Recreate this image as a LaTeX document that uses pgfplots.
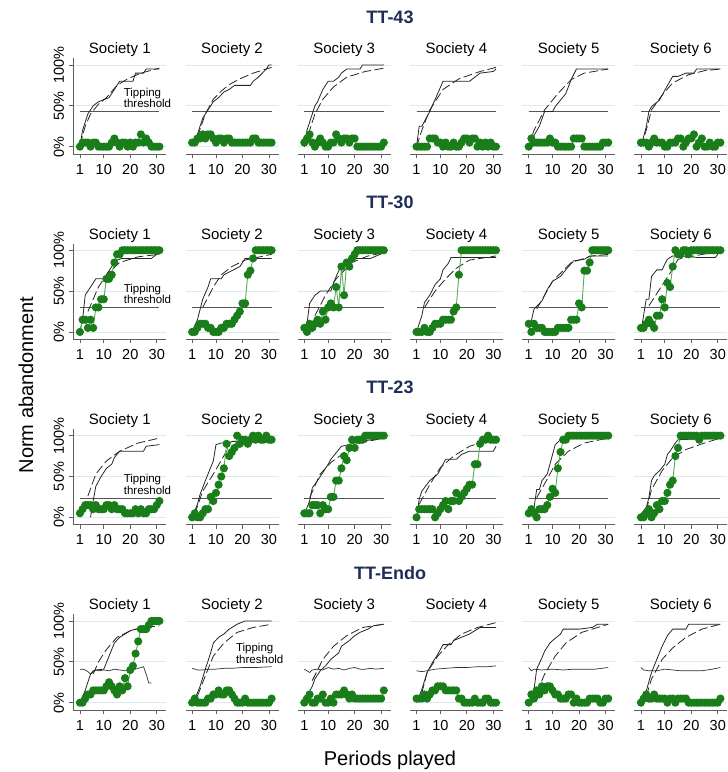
\documentclass[border=0pt]{standalone}
\usepackage{pgfplots}
\pgfplotsset{compat=1.18}
\usepackage{fontspec}
\setmainfont{Liberation Sans}
\definecolor{dg}{RGB}{25,125,25}
\definecolor{lg}{RGB}{85,170,85}
\definecolor{gridc}{RGB}{222,233,236}
\definecolor{axc}{RGB}{95,95,95}
\definecolor{thrc}{RGB}{85,85,85}
\definecolor{navyt}{RGB}{30,45,85}
\pgfplotsset{
 panel/.style={
  scale only axis, width=93pt, height=95.6pt,
  xmin=-1.5, xmax=33.6, ymin=-9, ymax=108,
  axis x line=bottom, axis y line=left,
  axis line style={draw=axc, line width=0.9pt, -},
  xtick={1,10,20,30}, ytick={0,50,100},
  tick align=outside, major tick length=4pt,
  tick style={draw=axc, line width=0.8pt},
  ymajorgrids, grid style={draw=gridc, line width=0.8pt},
  ticklabel style={font=\fontsize{14.5}{14.5}\selectfont},
  xticklabel style={yshift=-2.5pt},
  /pgf/number format/assume math mode=true,
  title style={at={(0.5,1)}, anchor=base, yshift=-1.5pt, font=\fontsize{15}{15}\selectfont},
  clip mode=individual,
  anchor=south west,
 },
 lefty/.style={yticklabels={0\%,50\%,100\%}, yticklabel style={rotate=90, anchor=south, inner sep=5pt}},
 noy/.style={y axis line style={draw=none}, yticklabels={}, ytick style={draw=none}},
 thrh/.style={draw=thrc, line width=1.2pt, mark=none},
 thrw/.style={draw=black!80, line width=0.7pt, mark=none},
 sol/.style={draw=black!85, line width=0.8pt, mark=none},
 dsh/.style={draw=black!85, line width=0.8pt, dash pattern=on 9pt off 3.5pt, mark=none},
 grn/.style={draw=lg, line width=0.9pt, mark=*, mark size=3.6pt, mark options={fill=dg, draw=dg, solid}},
}
\newcommand{\tiplab}[1]{\node[font=\fontsize{11.5}{10.5}\selectfont, align=left, anchor=south west, inner sep=0pt] at (axis cs:17.5,#1) {Tipping\\threshold};}
\begin{document}
\begin{tikzpicture}
\path[use as bounding box] (0,0) rectangle (728pt,-772pt);
\node[font=\bfseries\fontsize{18}{18}\selectfont, text=navyt] at (390pt,-17pt) {TT-43};
\node[font=\bfseries\fontsize{18}{18}\selectfont, text=navyt] at (390pt,-202.3pt) {TT-30};
\node[font=\bfseries\fontsize{18}{18}\selectfont, text=navyt] at (390pt,-387.6pt) {TT-23};
\node[font=\bfseries\fontsize{18}{18}\selectfont, text=navyt] at (390pt,-573pt) {TT-Endo};
\node[font=\fontsize{20}{20}\selectfont, rotate=90] at (26pt,-385pt) {Norm abandonment};
\node[font=\fontsize{20}{20}\selectfont] at (390pt,-760pt) {Periods played};

% ---------------- Row 1: TT-43 ----------------
\begin{axis}[panel, lefty, at={(73.3pt,-154pt)}, title={Society 1}]
\addplot[thrh] coordinates {(1,43)(31,43)};
\addplot[sol] coordinates {(1,0)(2,20)(4,40)(6,50)(8,55)(12,60)(14,70)(16,80)(21,80)(22,90)(25,90)(26,95)(31,95)};
\addplot[dsh] coordinates {(1,2)(3,25)(5,40)(8,52)(11,60)(15,75)(19,83)(24,90)(31,96)};
\addplot[grn] coordinates {(1,0)(2,5)(3,5)(4,5)(5,0)(6,5)(7,5)(8,0)(9,0)(10,0)(11,0)(12,0)(13,5)(14,10)(15,5)(16,0)(17,5)(18,5)(19,0)(20,5)(21,0)(22,5)(23,5)(24,15)(25,5)(26,10)(27,5)(28,0)(29,0)(30,0)(31,0)};
\tiplab{47}
\end{axis}
\begin{axis}[panel, noy, at={(185.5pt,-154pt)}, title={Society 2}]
\addplot[thrh] coordinates {(1,43)(31,43)};
\addplot[sol] coordinates {(1,5)(3,15)(5,35)(7,45)(9,55)(11,60)(13,67)(15,70)(17,75)(23,75)(24,80)(26,85)(29,95)(30,100)(31,100)};
\addplot[dsh] coordinates {(3,12)(6,40)(9,58)(12,68)(15,76)(19,83)(24,90)(28,94)(31,97)};
\addplot[grn] coordinates {(1,5)(2,5)(3,10)(4,10)(5,15)(6,10)(7,15)(8,15)(9,10)(10,5)(11,10)(12,10)(13,5)(14,10)(15,10)(16,5)(17,5)(18,5)(19,5)(20,5)(21,5)(22,5)(23,5)(24,10)(25,10)(26,5)(27,5)(28,5)(29,5)(30,5)(31,5)};
\end{axis}
\begin{axis}[panel, noy, at={(297.7pt,-154pt)}, title={Society 3}]
\addplot[thrh] coordinates {(1,43)(31,43)};
\addplot[sol] coordinates {(1,0)(2,20)(3,30)(5,50)(6,55)(8,70)(10,80)(12,80)(14,85)(15,90)(17,95)(22,95)(23,100)(31,100)};
\addplot[dsh] coordinates {(1,0)(3,20)(5,40)(8,58)(12,73)(17,85)(24,92)(31,96)};
\addplot[grn] coordinates {(1,5)(2,10)(3,15)(4,5)(5,0)(6,5)(7,10)(8,5)(9,0)(10,0)(11,5)(12,5)(13,15)(14,10)(15,5)(16,10)(17,10)(18,5)(19,10)(20,10)(21,0)(22,0)(23,0)(24,0)(25,0)(26,0)(27,0)(28,0)(29,0)(30,0)(31,5)};
\end{axis}
\begin{axis}[panel, noy, at={(409.9pt,-154pt)}, title={Society 4}]
\addplot[thrh] coordinates {(1,43)(31,43)};
\addplot[sol] coordinates {(1,0)(2,25)(3,25)(6,43)(9,65)(11,80)(21,80)(23,85)(25,90)(30,92)(31,95)};
\addplot[dsh] coordinates {(1,0)(3,20)(6,45)(11,70)(17,83)(25,92)(31,97)};
\addplot[grn] coordinates {(1,0)(2,0)(3,0)(4,0)(5,0)(6,10)(7,10)(8,10)(9,5)(10,5)(11,0)(12,5)(13,0)(14,0)(15,5)(16,0)(17,0)(18,5)(19,10)(20,10)(21,5)(22,10)(23,10)(24,0)(25,5)(26,0)(27,5)(28,0)(29,5)(30,0)(31,0)};
\end{axis}
\begin{axis}[panel, noy, at={(522.1pt,-154pt)}, title={Society 5}]
\addplot[thrh] coordinates {(1,43)(31,43)};
\addplot[sol] coordinates {(1,0)(2,8)(5,25)(7,43)(10,43)(11,49)(15,65)(17,82)(19,95)(31,95)};
\addplot[dsh] coordinates {(1,0)(3,20)(7,45)(12,65)(17,82)(22,90)(31,95)};
\addplot[grn] coordinates {(1,0)(2,10)(3,5)(4,5)(5,5)(6,5)(7,5)(8,5)(9,10)(10,5)(11,5)(12,0)(13,0)(14,0)(15,0)(16,0)(17,0)(18,10)(19,10)(20,10)(21,10)(22,0)(23,0)(24,0)(25,0)(26,0)(27,0)(28,0)(29,5)(30,5)(31,5)};
\end{axis}
\begin{axis}[panel, noy, at={(634.3pt,-154pt)}, title={Society 6}]
\addplot[thrh] coordinates {(1,43)(31,43)};
\addplot[sol] coordinates {(1,0)(3,24)(4,43)(5,49)(8,57)(10,69)(13,86)(15,86)(18,90)(21,90)(22,95)(31,95)};
\addplot[dsh] coordinates {(1,0)(3,20)(5,45)(9,63)(13,78)(19,88)(25,93)(31,95)};
\addplot[grn] coordinates {(1,5)(2,5)(3,5)(4,0)(5,5)(6,10)(7,5)(8,5)(9,5)(10,0)(11,0)(12,5)(13,5)(14,5)(15,10)(16,10)(17,0)(18,5)(19,10)(20,10)(21,15)(22,0)(23,5)(24,10)(25,0)(26,0)(27,5)(28,0)(29,0)(30,5)(31,5)};
\end{axis}

% ---------------- Row 2: TT-30 ----------------
\begin{axis}[panel, lefty, at={(73.3pt,-339.3pt)}, title={Society 1}]
\addplot[thrh] coordinates {(1,30)(31,30)};
\addplot[sol] coordinates {(1,0)(2,15)(3,45)(5,55)(6,60)(7,65)(10,65)(11,70)(13,80)(15,88)(17,90)(28,90)(30,95)(31,95)};
\addplot[dsh] coordinates {(4,25)(8,55)(11,70)(16,85)(23,92)(31,95)};
\addplot[grn] coordinates {(1,0)(2,15)(3,15)(4,5)(5,15)(6,5)(7,30)(8,30)(9,40)(10,40)(11,65)(12,65)(13,70)(14,85)(15,95)(16,95)(17,100)(18,100)(19,100)(20,100)(21,100)(22,100)(23,100)(24,100)(25,100)(26,100)(27,100)(28,100)(29,100)(30,100)(31,100)};
\tiplab{34}
\end{axis}
\begin{axis}[panel, noy, at={(185.5pt,-339.3pt)}, title={Society 2}]
\addplot[thrh] coordinates {(1,30)(31,30)};
\addplot[sol] coordinates {(1,0)(3,15)(5,40)(7,55)(8,65)(12,65)(13,70)(16,75)(19,80)(20,85)(21,90)(31,90)};
\addplot[dsh] coordinates {(5,30)(9,55)(12,70)(16,80)(21,88)(31,95)};
\addplot[grn] coordinates {(1,0)(2,0)(3,5)(4,10)(5,10)(6,10)(7,5)(8,5)(9,0)(10,0)(11,0)(12,5)(13,5)(14,10)(15,10)(16,10)(17,15)(18,20)(19,25)(20,35)(21,35)(22,70)(23,75)(24,90)(25,100)(26,100)(27,100)(28,100)(29,100)(30,100)(31,100)};
\end{axis}
\begin{axis}[panel, noy, at={(297.7pt,-339.3pt)}, title={Society 3}]
\addplot[thrh] coordinates {(1,30)(31,30)};
\addplot[sol] coordinates {(1,0)(2,10)(3,35)(5,45)(7,50)(11,50)(12,60)(14,75)(15,80)(17,85)(19,90)(26,90)(31,97)};
\addplot[dsh] coordinates {(5,20)(9,45)(13,65)(19,85)(25,93)(31,97)};
\addplot[grn] coordinates {(1,5)(2,0)(3,10)(4,5)(5,10)(6,15)(7,10)(8,25)(9,15)(10,30)(11,35)(12,30)(13,55)(14,30)(15,80)(16,45)(17,85)(18,80)(19,90)(20,95)(21,100)(22,100)(23,100)(24,100)(25,100)(26,100)(27,100)(28,100)(29,100)(30,100)(31,100)};
\end{axis}
\begin{axis}[panel, noy, at={(409.9pt,-339.3pt)}, title={Society 4}]
\addplot[thrh] coordinates {(1,30)(31,30)};
\addplot[sol] coordinates {(1,0)(3,20)(4,36)(6,45)(8,58)(10,65)(11,76)(13,84)(14,91)(18,91)(31,91)};
\addplot[dsh] coordinates {(4,30)(8,50)(12,65)(16,78)(21,88)(31,93)};
\addplot[grn] coordinates {(1,0)(2,0)(3,0)(4,5)(5,0)(6,0)(7,5)(8,10)(9,10)(10,10)(11,15)(12,15)(13,15)(14,15)(15,25)(16,30)(17,70)(18,100)(19,100)(20,100)(21,100)(22,100)(23,100)(24,100)(25,100)(26,100)(27,100)(28,100)(29,100)(30,100)(31,100)};
\end{axis}
\begin{axis}[panel, noy, at={(522.1pt,-339.3pt)}, title={Society 5}]
\addplot[thrh] coordinates {(1,30)(31,30)};
\addplot[sol] coordinates {(1,0)(3,28)(6,38)(8,52)(10,62)(13,68)(16,80)(18,87)(22,89)(24,93)(31,93)};
\addplot[dsh] coordinates {(4,28)(10,62)(17,85)(25,93)(31,95)};
\addplot[grn] coordinates {(1,10)(2,0)(3,10)(4,5)(5,5)(6,5)(7,0)(8,0)(9,0)(10,0)(11,0)(12,5)(13,5)(14,5)(15,5)(16,5)(17,15)(18,15)(19,15)(20,35)(21,30)(22,75)(23,75)(24,85)(25,100)(26,100)(27,100)(28,100)(29,100)(30,100)(31,100)};
\end{axis}
\begin{axis}[panel, noy, at={(634.3pt,-339.3pt)}, title={Society 6}]
\addplot[thrh] coordinates {(1,30)(31,30)};
\addplot[sol] coordinates {(1,0)(3,40)(4,40)(5,68)(7,76)(9,76)(10,83)(11,89)(13,93)(16,93)(23,91)(29,91)(31,99)};
\addplot[dsh] coordinates {(4,32)(8,52)(12,72)(15,89)(21,93)(31,99)};
\addplot[grn] coordinates {(1,5)(2,5)(3,10)(4,15)(5,10)(6,5)(7,20)(8,20)(9,40)(10,30)(11,60)(12,55)(13,80)(14,100)(15,95)(16,95)(17,100)(18,100)(19,95)(20,100)(21,100)(22,100)(23,100)(24,100)(25,100)(26,100)(27,100)(28,100)(29,100)(30,100)(31,100)};
\end{axis}

% ---------------- Row 3: TT-23 ----------------
\begin{axis}[panel, lefty, at={(73.3pt,-524.7pt)}, title={Society 1}]
\addplot[thrh] coordinates {(1,23)(31,23)};
\addplot[sol] coordinates {(5,0)(6,20)(7,38)(9,50)(10,55)(11,60)(13,65)(14,73)(16,81)(25,81)(26,87)(31,89)};
\addplot[dsh] coordinates {(4,26)(7,53)(11,69)(16,81)(23,91)(31,97)};
\addplot[grn] coordinates {(1,5)(2,10)(3,15)(4,15)(5,15)(6,10)(7,15)(8,10)(9,10)(10,10)(11,15)(12,15)(13,10)(14,15)(15,10)(16,10)(17,10)(18,5)(19,5)(20,5)(21,5)(22,10)(23,5)(24,10)(25,5)(26,5)(27,10)(28,10)(29,10)(30,15)(31,20)};
\tiplab{28}
\end{axis}
\begin{axis}[panel, noy, at={(185.5pt,-524.7pt)}, title={Society 2}]
\addplot[thrh] coordinates {(1,23)(31,23)};
\addplot[sol] coordinates {(1,0)(3,16)(4,28)(6,45)(7,53)(9,69)(10,89)(12,91)(15,91)(16,93)(31,93)};
\addplot[dsh] coordinates {(2,4)(5,32)(9,53)(14,81)(19,89)(31,95)};
\addplot[grn] coordinates {(1,0)(2,5)(3,0)(4,0)(5,5)(6,10)(7,10)(8,25)(9,20)(10,30)(11,40)(12,50)(13,60)(14,90)(15,75)(16,80)(17,85)(18,100)(19,90)(20,95)(21,95)(22,90)(23,95)(24,100)(25,95)(26,100)(27,95)(28,95)(29,100)(30,95)(31,95)};
\end{axis}
\begin{axis}[panel, noy, at={(297.7pt,-524.7pt)}, title={Society 3}]
\addplot[thrh] coordinates {(1,23)(31,23)};
\addplot[sol] coordinates {(1,4)(3,20)(4,36)(6,45)(8,55)(10,65)(11,71)(13,79)(15,87)(18,89)(22,93)(31,97)};
\addplot[dsh] coordinates {(3,24)(7,53)(11,67)(16,79)(22,91)(31,97)};
\addplot[grn] coordinates {(1,5)(2,5)(3,5)(4,15)(5,15)(6,15)(7,5)(8,15)(9,10)(10,10)(11,25)(12,25)(13,45)(14,45)(15,60)(16,75)(17,70)(18,85)(19,95)(20,85)(21,95)(22,95)(23,95)(24,100)(25,100)(26,100)(27,100)(28,100)(29,100)(30,100)(31,100)};
\end{axis}
\begin{axis}[panel, noy, at={(409.9pt,-524.7pt)}, title={Society 4}]
\addplot[thrh] coordinates {(1,23)(31,23)};
\addplot[sol] coordinates {(1,0)(2,22)(3,32)(6,45)(9,53)(11,65)(12,71)(16,71)(18,77)(21,81)(30,81)(31,87)};
\addplot[dsh] coordinates {(2,16)(6,40)(10,61)(15,75)(21,87)(31,97)};
\addplot[grn] coordinates {(1,0)(2,10)(3,10)(4,10)(5,10)(6,10)(7,10)(8,0)(9,5)(10,10)(11,15)(12,20)(13,10)(14,20)(15,20)(16,30)(17,20)(18,25)(19,30)(20,35)(21,40)(22,40)(23,65)(24,65)(25,90)(26,95)(27,95)(28,100)(29,95)(30,95)(31,95)};
\end{axis}
\begin{axis}[panel, noy, at={(522.1pt,-524.7pt)}, title={Society 5}]
\addplot[thrh] coordinates {(1,23)(31,23)};
\addplot[sol] coordinates {(1,2)(3,12)(4,34)(5,34)(6,45)(8,53)(9,65)(10,77)(11,89)(13,95)(15,97)(31,100)};
\addplot[dsh] coordinates {(4,24)(8,47)(11,65)(16,81)(22,91)(31,97)};
\addplot[grn] coordinates {(1,5)(2,10)(3,5)(4,0)(5,10)(6,10)(7,10)(8,15)(9,25)(10,35)(11,30)(12,60)(13,80)(14,95)(15,95)(16,100)(17,100)(18,100)(19,100)(20,100)(21,100)(22,100)(23,100)(24,100)(25,100)(26,100)(27,100)(28,100)(29,100)(30,100)(31,100)};
\end{axis}
\begin{axis}[panel, noy, at={(634.3pt,-524.7pt)}, title={Society 6}]
\addplot[thrh] coordinates {(1,23)(31,23)};
\addplot[sol] coordinates {(1,4)(3,12)(4,24)(5,45)(6,51)(8,57)(10,65)(11,77)(12,81)(14,91)(15,95)(31,97)};
\addplot[dsh] coordinates {(3,8)(5,34)(9,57)(13,73)(18,83)(25,91)(31,97)};
\addplot[grn] coordinates {(1,0)(2,0)(3,5)(4,10)(5,0)(6,5)(7,15)(8,10)(9,20)(10,20)(11,30)(12,40)(13,45)(14,75)(15,85)(16,100)(17,100)(18,100)(19,100)(20,100)(21,100)(22,100)(23,95)(24,100)(25,100)(26,100)(27,100)(28,100)(29,100)(30,100)(31,100)};
\end{axis}

% ---------------- Row 4: TT-Endo ----------------
\begin{axis}[panel, lefty, at={(73.3pt,-710pt)}, title={Society 1}]
\addplot[thrw] coordinates {(1,41)(2,41)(3,40)(4,38)(5,35)(6,39)(7,40)(8,39)(10,40)(12,39)(14,41)(16,40)(18,39)(20,40)(22,41)(24,43)(25,44)(26,35)(27,24)(28,24)};
\addplot[sol] coordinates {(1,0)(3,15)(5,35)(7,40)(10,41)(12,57)(14,73)(16,80)(18,84)(20,88)(22,90)(27,92)(28,96)(31,96)};
\addplot[dsh] coordinates {(6,35)(8,50)(11,65)(15,80)(20,88)(25,92)(31,94)};
\addplot[grn] coordinates {(1,0)(2,0)(3,5)(4,10)(5,10)(6,15)(7,15)(8,15)(9,15)(10,15)(11,20)(12,25)(13,20)(14,15)(15,10)(16,20)(17,15)(18,30)(19,20)(20,40)(21,45)(22,60)(23,75)(24,90)(25,90)(26,90)(27,95)(28,100)(29,100)(30,100)(31,100)};
\end{axis}
\begin{axis}[panel, noy, at={(185.5pt,-710pt)}, title={Society 2}]
\addplot[thrw] coordinates {(1,42)(2,41)(3,40)(5,40)(7,41)(10,41)(13,42)(16,42)(20,43)(25,43)(31,44)};
\addplot[sol] coordinates {(1,0)(2,4)(4,20)(6,41)(8,61)(9,73)(11,80)(13,84)(15,90)(18,96)(21,100)(31,100)};
\addplot[dsh] coordinates {(3,8)(6,33)(9,57)(13,73)(18,86)(24,92)(31,96)};
\addplot[grn] coordinates {(1,0)(2,5)(3,0)(4,0)(5,0)(6,0)(7,5)(8,5)(9,10)(10,10)(11,15)(12,10)(13,10)(14,15)(15,15)(16,10)(17,5)(18,0)(19,0)(20,0)(21,5)(22,0)(23,0)(24,0)(25,0)(26,0)(27,0)(28,0)(29,0)(30,0)(31,5)};
\tiplab{48}
\end{axis}
\begin{axis}[panel, noy, at={(297.7pt,-710pt)}, title={Society 3}]
\addplot[thrw] coordinates {(1,41)(2,39)(3,37)(4,40)(6,41)(8,40)(10,43)(12,41)(14,42)(16,40)(18,42)(20,43)(22,41)(24,41)(26,42)(28,41)(31,42)};
\addplot[sol] coordinates {(1,0)(3,14)(4,20)(5,29)(7,39)(9,45)(11,53)(14,61)(15,69)(18,76)(20,82)(22,86)(25,90)(27,94)(31,96)};
\addplot[dsh] coordinates {(4,27)(8,53)(12,69)(17,82)(23,92)(31,96)};
\addplot[grn] coordinates {(1,0)(2,5)(3,10)(4,0)(5,0)(6,5)(7,5)(8,10)(9,0)(10,0)(11,5)(12,0)(13,10)(14,10)(15,10)(16,15)(17,10)(18,5)(19,10)(20,5)(21,5)(22,5)(23,5)(24,5)(25,5)(26,5)(27,5)(28,5)(29,5)(30,5)(31,15)};
\end{axis}
\begin{axis}[panel, noy, at={(409.9pt,-710pt)}, title={Society 4}]
\addplot[thrw] coordinates {(1,39)(3,38)(5,39)(8,41)(12,42)(16,43)(20,43)(24,44)(28,44)(31,45)};
\addplot[sol] coordinates {(1,0)(3,16)(5,37)(7,49)(9,59)(11,71)(14,71)(15,76)(18,80)(21,84)(23,88)(25,92)(31,92)};
\addplot[dsh] coordinates {(3,12)(5,37)(9,57)(13,71)(18,84)(24,92)(31,98)};
\addplot[grn] coordinates {(1,5)(2,5)(3,5)(4,10)(5,5)(6,10)(7,15)(8,15)(9,20)(10,20)(11,20)(12,15)(13,15)(14,15)(15,15)(16,15)(17,5)(18,5)(19,0)(20,0)(21,0)(22,0)(23,5)(24,0)(25,0)(26,0)(27,5)(28,5)(29,0)(30,0)(31,0)};
\end{axis}
\begin{axis}[panel, noy, at={(522.1pt,-710pt)}, title={Society 5}]
\addplot[thrw] coordinates {(1,43)(2,39)(3,41)(6,40)(10,41)(14,40)(18,41)(22,41)(26,41)(31,43)};
\addplot[sol] coordinates {(1,0)(3,16)(4,41)(6,55)(7,63)(9,73)(10,76)(13,84)(14,90)(20,90)(25,92)(27,96)(31,96)};
\addplot[dsh] coordinates {(4,12)(7,35)(11,57)(15,73)(21,86)(31,96)};
\addplot[grn] coordinates {(1,0)(2,10)(3,5)(4,15)(5,10)(6,20)(7,15)(8,20)(9,20)(10,15)(11,10)(12,10)(13,5)(14,5)(15,5)(16,10)(17,10)(18,0)(19,5)(20,0)(21,0)(22,0)(23,0)(24,5)(25,5)(26,5)(27,5)(28,0)(29,0)(30,5)(31,5)};
\end{axis}
\begin{axis}[panel, noy, at={(634.3pt,-710pt)}, title={Society 6}]
\addplot[thrw] coordinates {(1,43)(2,40)(4,39)(7,39)(10,41)(13,40)(16,39)(20,39)(24,39)(28,41)(31,43)};
\addplot[sol] coordinates {(1,0)(3,14)(5,37)(7,53)(9,69)(11,82)(13,90)(18,90)(19,96)(31,96)};
\addplot[dsh] coordinates {(3,8)(5,29)(9,53)(13,67)(18,80)(24,90)(31,96)};
\addplot[grn] coordinates {(1,0)(2,5)(3,10)(4,5)(5,5)(6,10)(7,5)(8,5)(9,5)(10,5)(11,0)(12,5)(13,5)(14,0)(15,5)(16,5)(17,5)(18,5)(19,0)(20,0)(21,0)(22,0)(23,0)(24,0)(25,0)(26,0)(27,0)(28,0)(29,0)(30,0)(31,5)};
\end{axis}
\end{tikzpicture}
\end{document}
